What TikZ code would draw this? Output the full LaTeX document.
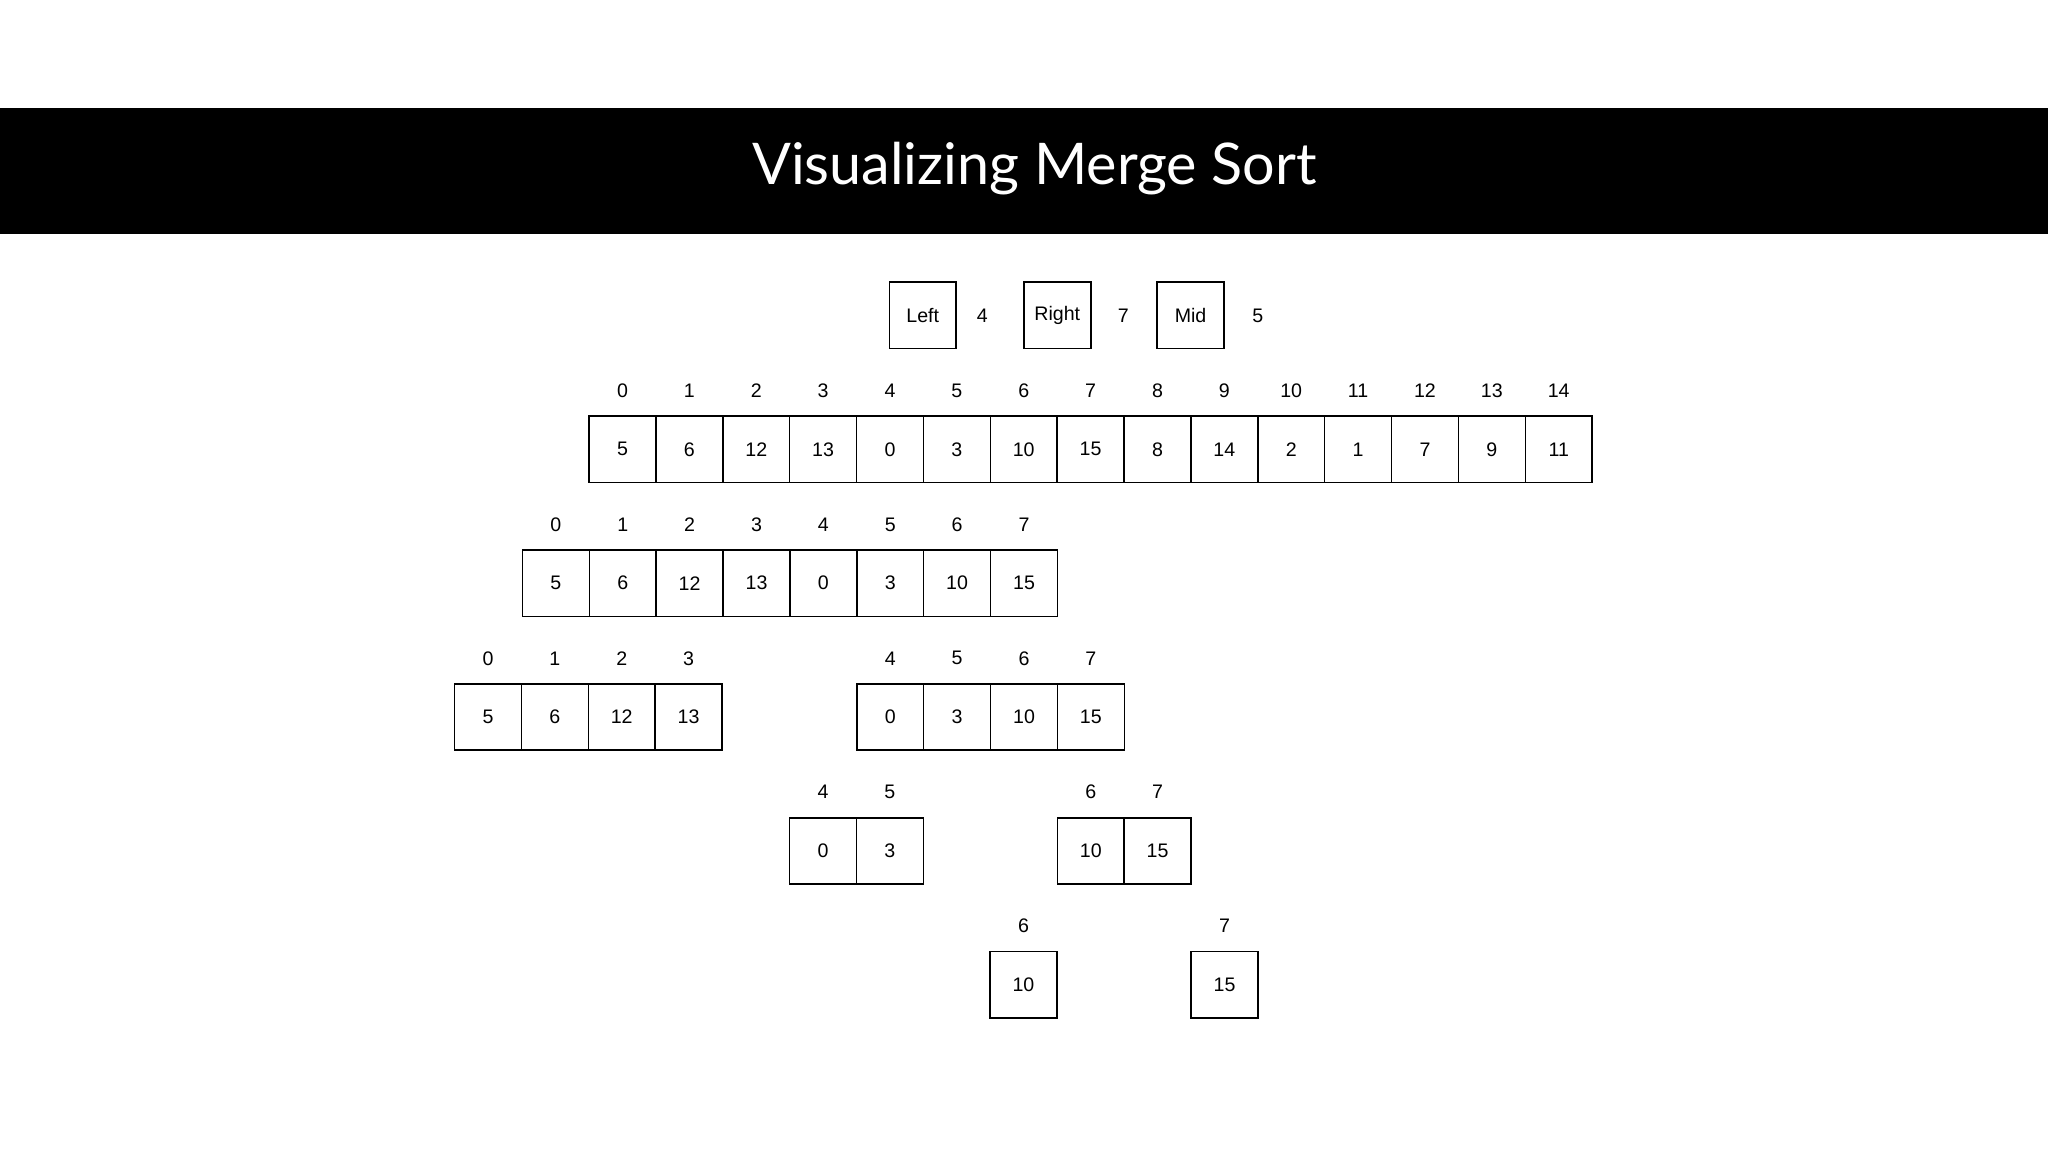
\documentclass[tikz,border=0pt]{standalone}
\usepackage{fontspec}
\setmainfont{Liberation Sans}
\newfontfamily\titlefont{Lato}
\tikzset{
  cellbox/.style={draw,line width=0.6pt,minimum width=25.6pt,minimum height=25.4pt,inner sep=0pt,font=\fontsize{7.5}{9}\selectfont},
  idxlabel/.style={inner sep=0pt,font=\fontsize{7.5}{9}\selectfont},
}
% #1 name, #2 x of left edge (px), #3 y center (px), #4 first index, #5 values
\newcommand{\cellrow}[5]{%
  \foreach \v [count=\k from 0, evaluate=\k as \xx using {#2+25.6+51.2*\k}, evaluate=\k as \ii using {int(#4+\k)}] in {#5} {
    \node[cellbox] (#1c\k) at (\xx,#3) {\v};
    \node[idxlabel] (#1i\k) at (\xx,#3-45) {\ii};
  }}
\begin{document}
\begin{tikzpicture}[x=0.5pt,y=-0.5pt]
\useasboundingbox (0,0) rectangle (1568,882);
\fill[black] (0,83) rectangle (1568,179);
\node[text=white,font=\titlefont\fontsize{22}{26}\selectfont,inner sep=0pt] (title) at (792,129) {Visualizing Merge Sort};
% pointers
\node[cellbox] (left) at (706.5,241.5) {Left};
\node[idxlabel] (leftv) at (752,241.5) {4};
\node[cellbox] (right) at (809.5,241.5) {Right};
\node[idxlabel] (rightv) at (860,241.5) {7};
\node[cellbox] (mid) at (911.5,241.5) {Mid};
\node[idxlabel] (midv) at (963,241.5) {5};
% rows
\cellrow{a}{451}{344}{0}{5,6,12,13,0,3,10,15,8,14,2,1,7,9,11}
\cellrow{b}{400}{446.5}{0}{5,6,12,13,0,3,10,15}
\cellrow{c}{348}{549}{0}{5,6,12,13}
\cellrow{d}{656}{549}{4}{0,3,10,15}
\cellrow{e}{604.5}{651.5}{4}{0,3}
\cellrow{f}{809.5}{651.5}{6}{10,15}
\cellrow{g}{758}{754}{6}{10}
\cellrow{h}{912}{754}{7}{15}
\end{tikzpicture}
\end{document}
